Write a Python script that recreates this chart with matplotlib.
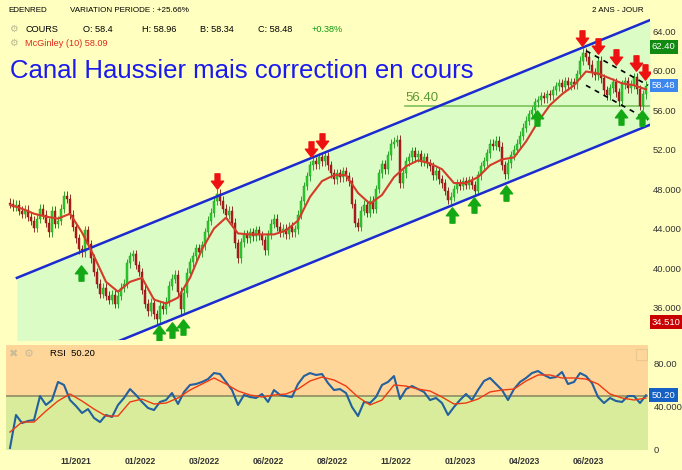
import numpy as np
import matplotlib
matplotlib.use("Agg")
import matplotlib.pyplot as plt
from matplotlib.path import Path
from matplotlib.patches import Rectangle

plt.rcParams['font.family'] = ['Liberation Sans', 'DejaVu Sans']

# --------- DATA ----------
# one candle every ~2.4 trading days, Aug 2021 -> Aug 2023
closes = [
    46.5, 46.2, 46.4, 45.8, 45.5, 45.9, 45.2, 44.8, 44.1, 45.0,
    46.0, 45.4, 44.6, 43.6, 45.8, 44.5, 44.8, 46.0, 47.3, 47.0,
    45.4, 44.2, 43.0, 41.9, 41.6, 43.8, 42.4, 41.0, 39.6, 38.4,
    37.4, 38.0, 37.2, 36.8, 37.3, 36.4, 37.2, 38.0, 38.4, 40.5,
    41.2, 41.4, 40.3, 39.6, 37.8, 36.4, 35.6, 36.5, 35.3, 34.8,
    36.2, 35.8, 36.6, 38.2, 38.9, 39.3, 37.6, 35.8, 37.5, 39.5,
    40.6, 41.2, 42.0, 41.6, 42.3, 43.6, 44.8, 45.6, 46.8, 47.5,
    46.8, 46.0, 45.4, 45.8, 44.6, 42.5, 41.0, 42.6, 43.4, 43.0,
    43.6, 43.2, 43.8, 43.3, 42.8, 41.8, 43.4, 44.5, 45.0, 44.2,
    43.6, 44.0, 43.4, 44.2, 43.6, 43.9, 45.4, 46.8, 48.3, 49.3,
    50.4, 50.8, 50.5, 51.2, 50.8, 51.3, 50.4, 49.6, 49.0, 49.6,
    49.2, 49.8, 49.3, 48.8, 46.5, 44.6, 44.2, 45.8, 46.4, 45.6,
    46.8, 46.0, 48.0, 49.6, 50.5, 50.0, 51.4, 52.6, 52.8, 53.0,
    48.6, 49.6, 50.8, 51.2, 51.8, 51.2, 51.5, 50.8, 51.2, 50.6,
    50.3, 49.4, 49.8, 49.0, 48.6, 47.8, 46.9, 47.2, 48.0, 48.6,
    48.3, 48.8, 48.4, 48.9, 48.4, 47.8, 49.4, 50.3, 50.8, 51.6,
    52.6, 52.4, 52.9, 52.3, 50.4, 49.5, 50.6, 51.4, 52.0, 52.6,
    53.4, 54.2, 54.9, 55.6, 56.0, 56.8, 57.0, 57.4, 57.2, 57.6,
    57.5, 58.0, 58.4, 58.7, 58.3, 58.9, 58.5, 58.8, 58.6, 59.6,
    61.0, 61.8, 61.4, 60.6, 59.8, 59.5, 61.0, 59.2, 58.0, 57.5,
    58.2, 58.8, 57.8, 56.9, 58.6, 58.9, 58.2, 58.6, 59.3, 58.1,
    56.4, 57.6, 58.48,
]
first_open = 46.6

mcginley = [
    46.4, 46.0, 45.5, 45.2, 45.0, 45.5, 43.6, 41.2, 38.6, 37.6,
    38.6, 39.0, 36.8, 36.4, 37.0, 39.0, 41.9, 44.0, 45.1, 43.5,
    43.4, 43.4, 43.4, 43.8, 44.8, 47.2, 48.8, 49.4, 49.4, 47.6,
    46.5, 47.4, 49.2, 50.3, 50.9, 50.6, 50.0, 48.6, 48.6, 49.2,
    50.4, 51.0, 51.2, 52.8, 54.8, 56.5, 57.6, 58.5, 59.9, 59.7,
    59.2, 58.7, 58.5, 58.09,
]

rsi = [
    1.2, 31.9, 24.4, 26.3, 27.2, 49.5, 41.2, 45.8, 62.6, 59.8,
    45.8, 40.2, 33.7, 37.4, 29.1, 25.3, 31.9, 30.0, 41.2, 47.7,
    56.0, 50.5, 44.0, 38.4, 36.5, 44.0, 45.8, 52.3, 42.1, 53.3,
    59.8, 60.7, 62.6, 65.3, 70.9, 70.0, 62.6, 55.1, 41.2, 50.5,
    48.6, 47.7, 51.4, 44.0, 55.1, 50.5, 49.5, 48.6, 60.7, 68.1,
    70.9, 69.1, 70.0, 61.6, 55.1, 56.0, 52.3, 39.3, 30.9, 44.0,
    43.0, 48.6, 59.8, 62.6, 68.1, 46.7, 56.0, 58.8, 56.0, 53.3,
    45.8, 47.7, 43.0, 31.9, 39.3, 45.8, 51.4, 45.8, 55.1, 63.5,
    66.3, 60.7, 55.1, 45.8, 56.0, 62.6, 66.3, 70.9, 72.8, 69.1,
    66.3, 67.2, 71.9, 60.7, 62.6, 70.9, 68.1, 61.6, 48.6, 43.0,
    47.7, 44.9, 44.0, 49.5, 49.5, 43.0, 50.2,
]

rsi_signal = [
    16.0, 25.3, 25.3, 35.6, 44.9, 51.4, 44.9, 37.4, 30.9, 30.9,
    44.0, 46.7, 42.1, 43.0, 47.7, 55.1, 60.7, 66.3, 60.7, 54.2,
    50.5, 48.6, 50.5, 51.4, 56.0, 63.5, 67.2, 64.4, 58.8, 48.6,
    41.2, 45.8, 59.8, 58.8, 56.0, 54.2, 48.6, 42.1, 43.0, 46.7,
    53.3, 55.1, 56.0, 63.5, 69.1, 69.1, 66.3, 66.3, 65.3, 60.7,
    51.4, 47.7, 45.8, 47.7,
]

date_labels = ['11/2021', '01/2022', '03/2022', '06/2022', '08/2022',
               '11/2022', '01/2023', '04/2023', '06/2023']
price_ticks = [36, 40, 44, 48, 52, 56, 60, 64]
price_tick_labels = ['36.000', '40.000', '44.000', '48.000',
                     '52.00', '56.00', '60.00', '64.00']
rsi_ticks = [0, 40, 80]
rsi_tick_labels = ['0', '40.000', '80.00']

# drawn objects (candle index, price)
channel_x = [2.3, 213.3]
channel_top = [39.0, 65.1]
channel_width = 10.6
dash_x = [192.0, 212.7]
dash_top = [62.0, 58.5]
dash_bottom = [58.5, 55.0]
level = 56.40
level_start = 131.7
sell_x = [69.0, 100.3, 104.0, 190.7, 196.0, 202.0, 208.7, 211.7]
sell_y = [48.8, 52.05, 52.86, 63.3, 62.5, 61.4, 60.8, 59.85]
buy_x = [23.7, 49.7, 54.0, 57.7, 147.3, 154.7, 165.3, 175.7, 203.7, 210.7]
buy_y = [39.5, 33.4, 33.7, 34.0, 45.4, 46.4, 47.6, 55.2, 55.3, 55.2]
period_high = 62.40
period_low = 34.51
last_close = 58.48
last_rsi = 50.20
# ---------------------------

BG = '#ffffc0'
W, H = 682, 470


def px_to_i(px):
    return (px - 10) / 3.0


fig = plt.figure(figsize=(W / 100, H / 100), dpi=100, facecolor=BG)
ax = fig.add_axes([0, 1 - 340 / H, 650 / W, 340 / H], facecolor=BG)
ax2 = fig.add_axes([6 / W, 1 - 450 / H, 642 / W, 105 / H])

n = len(closes)
x = np.arange(n)
c = np.array(closes)
o = np.concatenate([[first_open], c[:-1]])
up = c >= o
body_lo = np.minimum(o, c)
body_hi = np.maximum(o, c)
wick = 0.45

# channel
cx = np.linspace(channel_x[0], channel_x[1], 50)
ctop = np.interp(cx, channel_x, channel_top)
ax.fill_between(cx, ctop - channel_width, ctop, color='#dcfcc6', lw=0, zorder=1)
ax.plot(channel_x, channel_top, color='#1c2bd0', lw=1.8, zorder=4)
ax.plot(channel_x, np.array(channel_top) - channel_width, color='#1c2bd0', lw=1.8, zorder=4)

# 56.40 level
ax.plot([level_start, 214], [level, level], color='#7cc05a', lw=1.2, zorder=2)
ax.text(level_start, level + 0.25, f'{level:.2f}', color='#5a9a34', fontsize=9.5,
        ha='left', va='bottom', zorder=5)

# candles
col = np.where(up, '#2fd02f', '#b81c1c')
edge = np.where(up, '#1b8f1b', '#7a1010')
ax.vlines(x, body_lo - wick, body_hi + wick, colors=edge, lw=0.6, zorder=3)
ax.bar(x, np.maximum(body_hi - body_lo, 0.12), bottom=body_lo, width=0.9,
       color=col, edgecolor=edge, linewidth=0.3, zorder=3)

# McGinley
ax.plot(np.linspace(0, n - 1, len(mcginley)), mcginley, color='#d23c28', lw=1.5, zorder=4)

# descending dashed channel
ax.plot(dash_x, dash_top, color='black', lw=1.2, ls=(0, (3, 3)), zorder=5)
ax.plot(dash_x, dash_bottom, color='black', lw=1.2, ls=(0, (3, 3)), zorder=5)

# arrows
down = Path([(-0.16, 0.5), (0.16, 0.5), (0.16, 0.02), (0.4, 0.02), (0, -0.5),
             (-0.4, 0.02), (-0.16, 0.02), (-0.16, 0.5)], closed=True)
upv = Path([(vx, -vy) for vx, vy in down.vertices], closed=True)
ax.plot(sell_x, sell_y, ls='none', marker=down, ms=11, color='#ee1111', mec='#ee1111', zorder=6)
ax.plot(buy_x, buy_y, ls='none', marker=upv, ms=11, color='#14a814', mec='#14a814', zorder=6)

ax.set_xlim(px_to_i(0), px_to_i(650))
ax.set_ylim(56 - 230 / 9.875, 56 + 110 / 9.875)
ax.yaxis.tick_right()
ax.set_yticks(price_ticks, price_tick_labels)
ax.tick_params(axis='y', length=0, pad=2, labelsize=6.8, labelcolor='#333333')
ax.set_xticks([])
for s in ax.spines.values():
    s.set_visible(False)

yt = ax.get_yaxis_transform()
for val, txt, fc in [(period_high, '62.40', '#118a11'), (last_close, '58.48', '#3c86f0'),
                     (period_low, '34.510', '#c80000')]:
    ax.text(1.003, val, txt, transform=yt, ha='left', va='center', fontsize=6.8,
            color='white', bbox=dict(boxstyle='square,pad=0.25', fc=fc, ec='none'),
            clip_on=False)

# header texts
def ftext(px, py, s, **kw):
    fig.text(px / W, 1 - py / H, s, va='center', **kw)

ftext(8, 10, 'EDENRED', fontsize=5.8)
ftext(70, 10, 'VARIATION PERIODE : +25.66%', fontsize=5.8)
ftext(644, 10, '2 ANS - JOUR', fontsize=5.8, ha='right')
ftext(9, 29, '\u2699', fontsize=7, color='#b8b890', family='DejaVu Sans')
ftext(25, 29, 'COURS', fontsize=6.6)
ftext(83, 29, 'O: 58.4', fontsize=6.6)
ftext(142, 29, 'H: 58.96', fontsize=6.6)
ftext(200, 29, 'B: 58.34', fontsize=6.6)
ftext(258, 29, 'C: 58.48', fontsize=6.6)
ftext(312, 29, '+0.38%', fontsize=6.6, color='#119911')
ftext(9, 43, '\u2699', fontsize=7, color='#b8b890', family='DejaVu Sans')
ftext(25, 43, 'McGinley (10) 58.09', fontsize=6.6, color='#e02a1a')
fig.text(10 / W, 1 - 78 / H, 'Canal Haussier mais correction en cours', fontsize=18.5,
         color='#1a1aee', va='baseline')

# RSI panel
ax2.axhspan(50, 110, color='#ffd69a', lw=0)
ax2.axhspan(-10, 50, color='#d9ec9c', lw=0)
ax2.axhline(50, color='#8f8c62', lw=1.2)
ax2.plot(np.linspace(0, n - 1, len(rsi)), rsi, color='#22609e', lw=1.5)
ax2.plot(np.linspace(0, n - 1, len(rsi_signal)), rsi_signal, color='#ee3a12', lw=1.0)
ax2.set_xlim(px_to_i(6), px_to_i(648))
ax2.set_ylim(-0.7, 97.0)
ax2.yaxis.tick_right()
ax2.set_yticks(rsi_ticks, rsi_tick_labels)
ax2.tick_params(axis='y', length=0, pad=4, labelsize=6.8, labelcolor='#333333')
tick_pos = [px_to_i(76) + k * 21.35 for k in range(len(date_labels))]
ax2.set_xticks(tick_pos, date_labels)
ax2.tick_params(axis='x', length=0, pad=5, labelsize=6.2, labelcolor='#333333')
for lab in ax2.get_xticklabels():
    lab.set_fontweight('bold')
for s in ax2.spines.values():
    s.set_visible(False)
ax2.add_patch(Rectangle((0.982, 0.86), 0.016, 0.1, transform=ax2.transAxes,
                        fill=False, ec='#e8c890', lw=0.8))
ax2.text(1.006, last_rsi, f'{last_rsi:.2f}', transform=ax2.get_yaxis_transform(),
         ha='left', va='center', fontsize=6.8, color='white',
         bbox=dict(boxstyle='square,pad=0.25', fc='#1560c4', ec='none'), clip_on=False)
ftext(8, 354, '\u2716', fontsize=8, color='#c8bc98', family='DejaVu Sans')
ftext(24, 354, '\u2699', fontsize=8, color='#c8bc98', family='DejaVu Sans')
ftext(50, 354, 'RSI  50.20', fontsize=6.8)

fig.savefig('out.png', dpi=100, facecolor=BG)
